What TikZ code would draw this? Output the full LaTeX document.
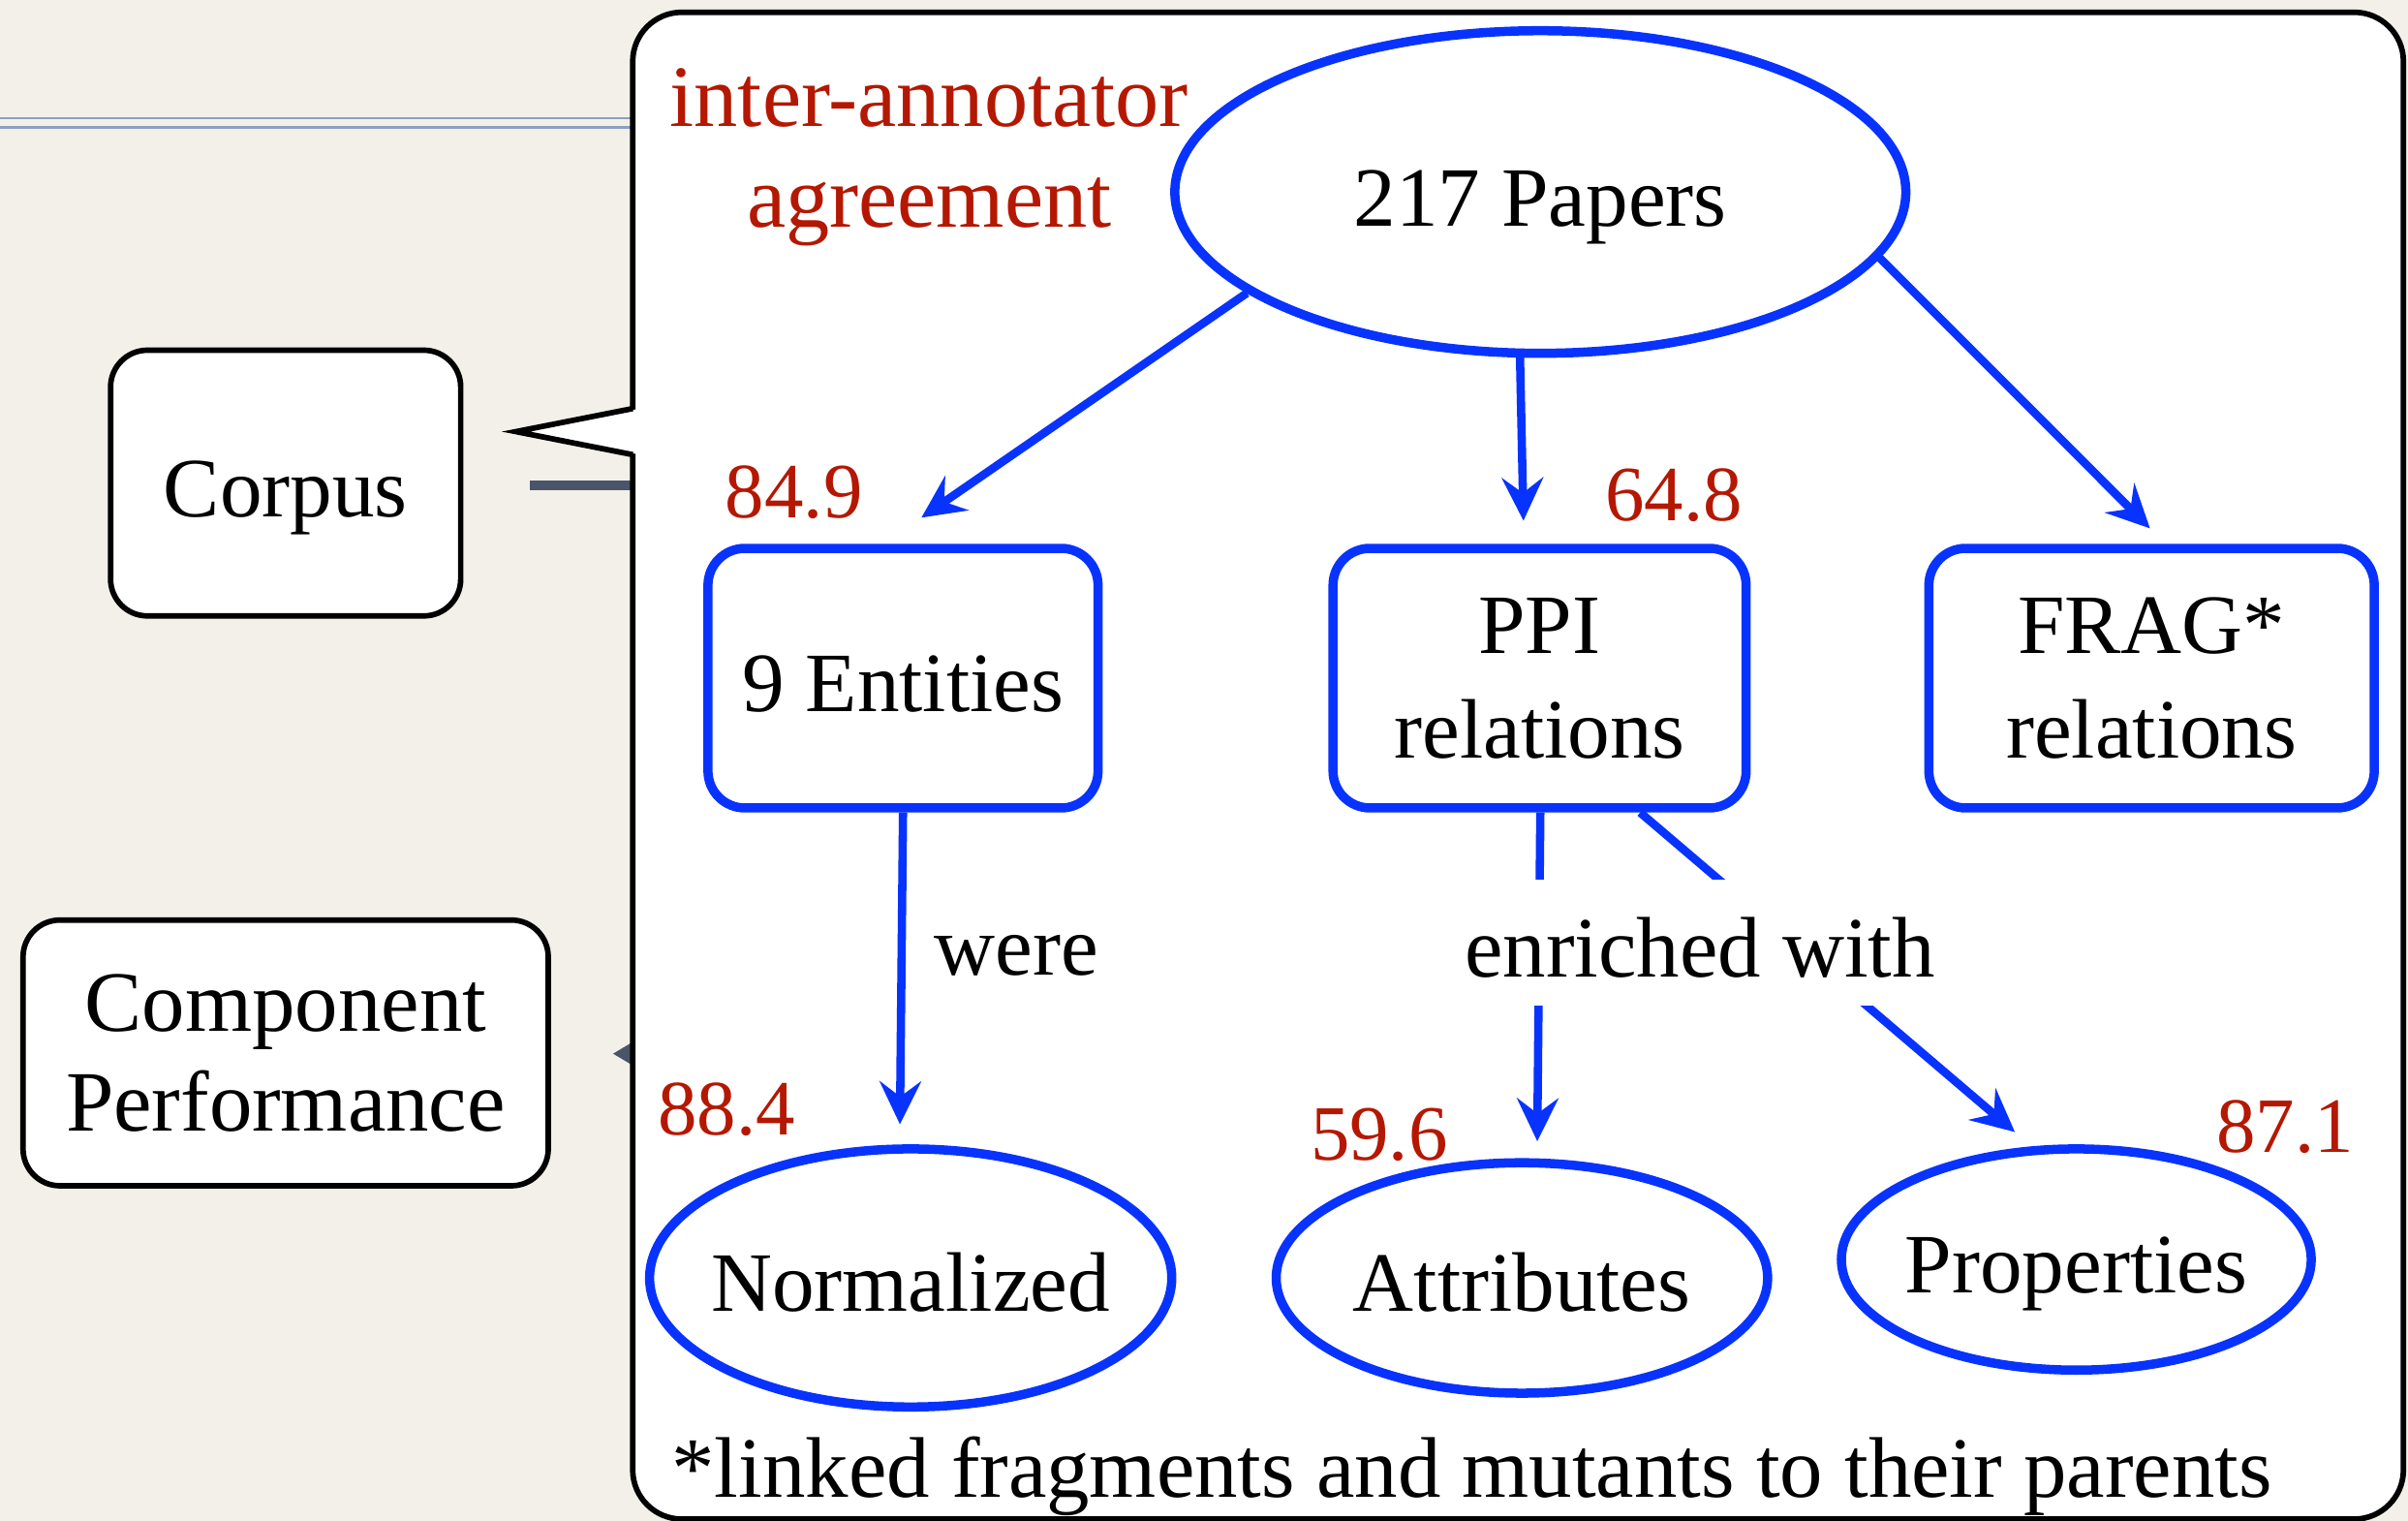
\documentclass[tikz,border=0pt]{standalone}
\usepackage{fontspec}
\setmainfont{Liberation Serif}
\usetikzlibrary{shapes.geometric,arrows.meta,calc}

\definecolor{paper}{RGB}{243,240,233}
\definecolor{kblue}{RGB}{8,51,255}
\definecolor{kred}{RGB}{180,24,2}
\definecolor{slate}{RGB}{74,85,105}
\definecolor{rulecol}{RGB}{138,160,196}

\begin{document}
\begin{tikzpicture}[x=0.5pt,y=-0.5pt,
  font=\fontsize{27.5}{34}\selectfont,
  oneline/.style={text height=24pt,text depth=2pt},
  plainbox/.style={draw=black,line width=1.8pt,fill=white,rounded corners=12pt,inner sep=0pt},
  bluebox/.style={draw=kblue,line width=3pt,fill=white,rounded corners=12pt,inner sep=0pt},
  oval/.style={ellipse,draw=kblue,line width=3pt,fill=white,inner xsep=-6pt,inner ysep=0pt},
  score/.style={text=kred,font=\fontsize{25.5}{30}\selectfont,inner sep=0pt,anchor=base},
  arr/.style={draw=kblue,line width=2.7pt,-{Stealth[length=14pt,width=13.5pt,inset=5pt]}},
  mask/.style={fill=white,inner xsep=4pt,inner ysep=0pt,text height=31.5pt,text depth=9.5pt,anchor=base}
]
\useasboundingbox (0,0) rectangle (1568,990);
\fill[paper] (0,0) rectangle (1568,990);

% slide rules behind the panel
\draw[rulecol,line width=0.8pt] (0,77) -- (412,77) (0,83) -- (412,83);

% outline boxes on the left
\node[plainbox,minimum width=114pt,minimum height=86.5pt,oneline] (corpus) at (186,314.5) {Corpus};
\node[plainbox,minimum width=171pt,minimum height=86.5pt,align=center,
      font=\fontsize{28}{32.5}\selectfont] (perf) at (186,685.5) {Component\\Performance};

% connectors partly hidden behind the panel
\coordinate (cstub) at (345,316);
\coordinate (cend) at (480,316);
\draw[slate,line width=3pt] (cstub) -- (cend);
\coordinate (pfrom) at (480,686);
\coordinate (ptip) at (399,686);
\draw[slate,line width=2pt,-{Triangle[length=9pt,width=10pt]}] (pfrom) -- (ptip);

% callout panel
\node[draw=black,line width=1.8pt,fill=white,rounded corners=16pt,
      minimum width=576.5pt,minimum height=490.5pt,inner sep=0pt] (panel) at (988.5,498.5) {};
\coordinate (calloutTip) at (336,281);
\coordinate (calloutA) at (412,266);
\coordinate (calloutB) at (412,296);
\fill[white] ($(calloutA)+(5,0)$) -- (calloutTip) -- ($(calloutB)+(5,0)$) -- cycle;
\draw[line width=1.8pt,line join=miter] (calloutA) -- (calloutTip) -- (calloutB);

% heading
\node[text=kred,align=center,inner sep=0pt,font=\fontsize{28.5}{33}\selectfont] (iaa) at (605,102.5) {inter-annotator\\agreement};

% graph nodes
\node[oval,minimum width=238pt,minimum height=105pt,oneline] (papers) at (1003,125) {217 Papers};
\node[bluebox,minimum width=127pt,minimum height=84.5pt,oneline] (ent) at (588,441.5) {9 Entities};
\node[bluebox,minimum width=134.5pt,minimum height=84.5pt,align=center] (ppi) at (1002.5,441.5) {PPI\\relations};
\node[bluebox,minimum width=145pt,minimum height=84.5pt,align=center] (frag) at (1401,441.5) {FRAG*\\relations};
\node[oval,minimum width=170pt,minimum height=84pt,oneline] (norm) at (593,832) {Normalized};
\node[oval,minimum width=160pt,minimum height=75pt,oneline] (attr) at (991,832) {Attributes};
\node[oval,minimum width=153pt,minimum height=72pt,oneline] (prop) at (1352,820) {Properties};

% connectors
\draw[arr] (papers.199) -- ($(ent.north)+(12,-17)$);
\draw[arr] (papers.263) -- ($(ppi.north)+(-10.5,-15)$);
\draw[arr] (papers.349) -- ($(frag.north)+(-1,-10)$);
\draw[arr] (ent.south) -- ($(norm.north)+(-7,-13)$);
\draw[arr] ($(ppi.south)+(0.5,0)$) -- ($(attr.north)+(10,-11)$);
\draw[arr] ($(ppi.south)+(65.5,0)$) -- ($(prop.north)+(-40,-8)$);

% edge labels
\node[mask,font=\fontsize{28}{34}\selectfont] (enr) at (1107,636) {enriched with};
\node[anchor=base,inner sep=0pt] (were) at (662,635) {were};

% agreement scores
\node[score] (s849) at (517,337) {84.9};
\node[score] (s648) at (1090,339) {64.8};
\node[score] (s884) at (473,739) {88.4};
\node[score] (s596) at (898,755) {59.6};
\node[score] (s871) at (1488,750) {87.1};

% footnote
\node[anchor=base west,inner sep=0pt,font=\fontsize{28}{34}\selectfont] (foot) at (437,975) {*linked fragments and mutants to their parents};
\end{tikzpicture}
\end{document}
